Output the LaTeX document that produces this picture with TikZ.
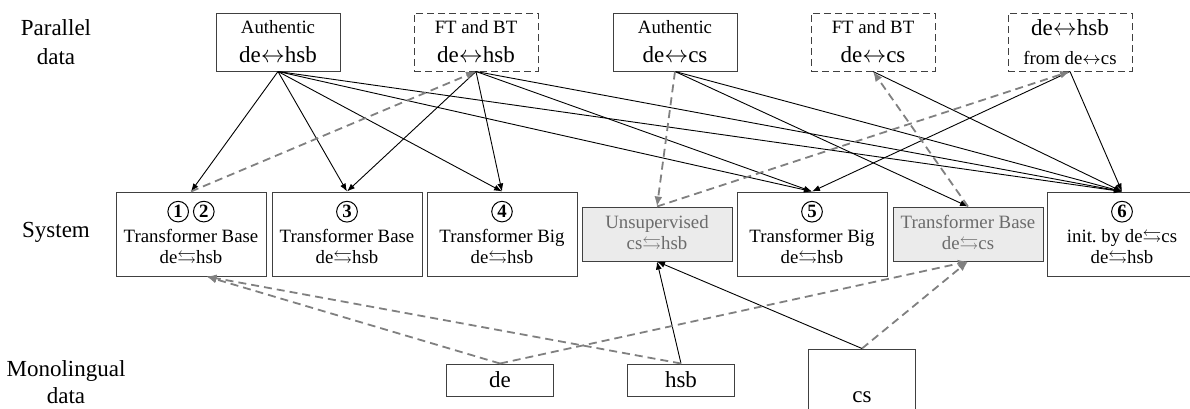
\documentclass[tikz,border=0pt]{standalone}
\usepackage{amssymb}
\usepackage{fontspec}
\setmainfont{Liberation Serif}
\usetikzlibrary{arrows.meta}
\definecolor{linegray}{rgb}{0.5,0.5,0.5}
\definecolor{boxgray}{rgb}{0.92,0.92,0.92}
\definecolor{textgray}{rgb}{0.42,0.42,0.42}
\definecolor{edgegray}{rgb}{0.25,0.25,0.25}
\newcommand{\bigf}{\fontsize{11.5}{14.5}\selectfont}
\newcommand{\smallf}{\fontsize{9.4}{10.5}\selectfont}
\newcommand{\biarrow}{$\leftrightarrow$}
\newcommand{\swaparrow}{$\leftrightarrows$}
\newcommand{\circnum}[1]{\tikz[baseline=(cn.base)]\node[circle,draw,line width=0.5pt,minimum width=0pt,minimum height=0pt,inner sep=0.9pt,font=\bfseries\smallf](cn){#1};}

\begin{document}
\begin{tikzpicture}[x=0.5pt, y=-0.5pt,
    data/.style={rectangle, draw=edgegray, line width=0.5pt, minimum width=62pt, minimum height=29pt, inner sep=1pt, align=center, font=\bigf},
    gen/.style={data, dash pattern=on 3.5pt off 2pt},
    sys/.style={rectangle, draw=edgegray, line width=0.5pt, minimum width=75pt, minimum height=42pt, inner sep=1pt, align=center, font=\smallf},
    aux/.style={sys, minimum height=27pt, fill=boxgray, text=textgray},
    mono/.style={rectangle, draw=edgegray, line width=0.5pt, minimum width=53.5pt, minimum height=16pt, font=\bigf},
    lab/.style={align=center, font=\bigf},
    arrow/.style={-{Latex[length=4pt,width=3pt]}, line width=0.45pt},
    garrow/.style={-{Latex[length=5pt,width=4pt]}, linegray, line width=0.9pt, dash pattern=on 4pt off 2.5pt}
]
\useasboundingbox (0,0) rectangle (1190,408);

% Row labels
\node[lab] (lpar) at (56,42) {Parallel\\data};
\node[lab] (lsys) at (56,232) {System};
\node[lab] (lmono) at (66,382) {Monolingual\\[-1pt]data};

% Parallel data
\node[data] (ahsb) at (278,42) {{\smallf Authentic}\\de\biarrow hsb};
\node[gen] (fthsb) at (476,42) {{\smallf FT and BT}\\de\biarrow hsb};
\node[data] (acs) at (675,42) {{\smallf Authentic}\\de\biarrow cs};
\node[gen] (ftcs) at (873,42) {{\smallf FT and BT}\\de\biarrow cs};
\node[gen] (hsbcs) at (1070,42) {de\biarrow hsb\\{\smallf from de\biarrow cs}};

% Systems
\node[sys] (s12) at (191,234) {\circnum{1}\hspace{2pt}\circnum{2}\\[2pt]Transformer Base\\de\swaparrow hsb};
\node[sys] (s3) at (347,234) {\circnum{3}\\[2pt]Transformer Base\\de\swaparrow hsb};
\node[sys] (s4) at (502,234) {\circnum{4}\\[2pt]Transformer Big\\de\swaparrow hsb};
\node[aux] (unsup) at (657,234) {Unsupervised\\cs\swaparrow hsb};
\node[sys] (s5) at (812,234) {\circnum{5}\\[2pt]Transformer Big\\de\swaparrow hsb};
\node[aux] (tbcs) at (968,234) {Transformer Base\\de\swaparrow cs};
\node[sys] (s6) at (1122,234) {\circnum{6}\\[2pt]init.\ by de\swaparrow cs\\de\swaparrow hsb};

% Monolingual data
\node[mono] (mde) at (500,380) {de};
\node[mono] (mhsb) at (681,380) {hsb};
\node[mono, minimum height=48pt] (mcs) at (862,397) {cs};

% Training data (solid)
\draw[arrow] (ahsb.south) -- (s12.north);
\draw[arrow] (ahsb.south) -- (s3.north);
\draw[arrow] (ahsb.south) -- (s4.north);
\draw[arrow] (ahsb.south) -- (s5.north);
\draw[arrow] (ahsb.south) -- (s6.north);
\draw[arrow] (fthsb.south) -- (s3.north);
\draw[arrow] (fthsb.south) -- (s4.north);
\draw[arrow] (fthsb.south) -- (s5.north);
\draw[arrow] (fthsb.south) -- (s6.north);
\draw[arrow] (acs.south) -- (tbcs.north);
\draw[arrow] (acs.south) -- (s6.north);
\draw[arrow] (ftcs.south) -- (s6.north);
\draw[arrow] (hsbcs.south) -- (s5.north);
\draw[arrow] (hsbcs.south) -- (s6.north);
\draw[arrow] (mhsb.north) -- (unsup.south);
\draw[arrow] (mcs.north) -- (unsup.south);

% Synthetic data (dashed gray)
\draw[garrow] (s12.north) -- (fthsb.south);
\draw[garrow] (acs.south) -- (unsup.north);
\draw[garrow] (unsup.north) -- (hsbcs.south);
\draw[garrow] (tbcs.north) -- (ftcs.south);
\draw[garrow] (mde.north) -- (s12.-70);
\draw[garrow] (mhsb.north) -- (s12.-70);
\draw[garrow] (mde.north) -- (tbcs.south);
\draw[garrow] (mcs.north) -- (tbcs.south);

\end{tikzpicture}
\end{document}
